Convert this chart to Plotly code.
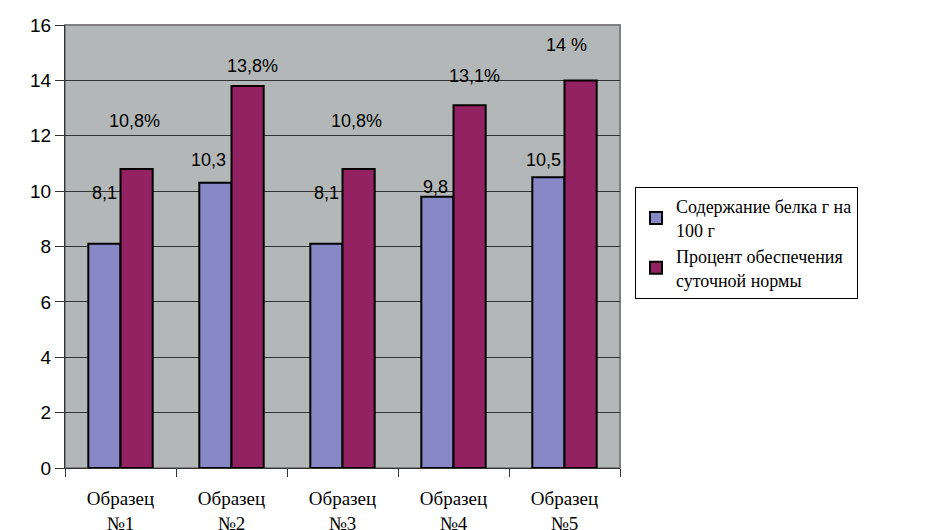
import plotly.graph_objects as go

categories = ["Образец<br>№1", "Образец<br>№2", "Образец<br>№3", "Образец<br>№4", "Образец<br>№5"]
protein = [8.1, 10.3, 8.1, 9.8, 10.5]
percent = [10.8, 13.8, 10.8, 13.1, 14.0]
protein_labels = ["8,1", "10,3", "8,1", "9,8", "10,5"]
percent_labels = ["10,8%", "13,8%", "10,8%", "13,1%", "14 %"]
# label heights (data units) as placed in the original
protein_label_y = [9.93, 11.12, 9.93, 10.15, 11.12]
percent_label_y = [12.53, 14.52, 12.53, 14.16, 15.28]
protein_label_dx = [0, -7, 0, -2, -5]
percent_label_dx = [-2, 5, -2, 5, -14]

SANS = "Liberation Sans, Arial, sans-serif"
SERIF = "Times New Roman, Liberation Serif, DejaVu Serif, serif"

fig = go.Figure()
fig.add_trace(go.Bar(x=categories, y=protein, name="Содержание белка г на<br>100 г",
                     marker=dict(color="#8689C5", line=dict(color="black", width=2))))
fig.add_trace(go.Bar(x=categories, y=percent, name="Процент обеспечения<br>суточной нормы",
                     marker=dict(color="#932263", line=dict(color="black", width=2))))

for i, c in enumerate(categories):
    fig.add_annotation(x=c, y=protein_label_y[i], text=protein_labels[i], showarrow=False,
                       xshift=-16 + protein_label_dx[i],
                       font=dict(family=SANS, size=18, color="black"))
    fig.add_annotation(x=c, y=percent_label_y[i], text=percent_labels[i], showarrow=False,
                       xshift=16 + percent_label_dx[i],
                       font=dict(family=SANS, size=18, color="black"))

fig.update_layout(
    width=926, height=530,
    margin=dict(l=65, r=306, t=25, b=62, autoexpand=False),
    paper_bgcolor="white",
    plot_bgcolor="#B4B7B7",
    barmode="group",
    bargap=0.42,
    bargroupgap=0,
    showlegend=True,
    legend=dict(x=1.027, y=0.634, xanchor="left", yanchor="top",
                bordercolor="black", borderwidth=1, bgcolor="white",
                font=dict(family=SERIF, size=18, color="black"),
                tracegroupgap=18, itemwidth=30, entrywidth=270),
    xaxis=dict(showgrid=False, tickson="boundaries", ticks="outside", ticklen=8,
               tickcolor="#333", showline=True, linecolor="#333", linewidth=1,
               ticklabelstandoff=13, automargin=False,
               tickfont=dict(family=SERIF, size=19, color="black")),
    yaxis=dict(range=[0, 16], dtick=2, showgrid=True, gridcolor="#333", gridwidth=1,
               ticks="outside", ticklen=9, tickcolor="#333", showline=True, linecolor="#333",
               linewidth=1, zeroline=False, automargin=False,
               tickfont=dict(family=SANS, size=19, color="black")),
)
fig.add_shape(type="rect", xref="paper", yref="paper", x0=0, x1=1, y0=0, y1=1,
              line=dict(color="#808080", width=2), layer="below")
fig.write_html("out.html")
